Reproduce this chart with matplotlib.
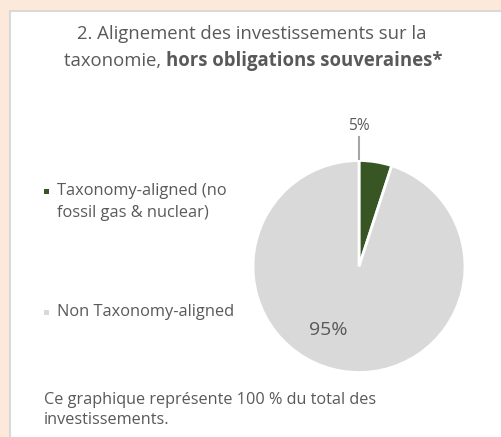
import matplotlib
matplotlib.use('Agg')
import matplotlib.pyplot as plt
from matplotlib.patches import Rectangle

# data
labels = ['Taxonomy-aligned (no\nfossil gas & nuclear)', 'Non Taxonomy-aligned']
values = [5, 95]
colors = ['#375623', '#D9D9D9']
title_1 = '2. Alignement des investissements sur la'
title_2a = 'taxonomie, '
title_2b = 'hors obligations souveraines*'
footer = 'Ce graphique représente 100 % du total des\ninvestissements.'

W, H = 502, 437
txt = '#595959'
plt.rcParams['font.family'] = ['Open Sans', 'DejaVu Sans']

fig = plt.figure(figsize=(W / 100, H / 100), dpi=100)
fig.patch.set_facecolor('#FCE9D9')
r = fig.canvas.get_renderer()

# white panel with light border
fig.add_artist(Rectangle((10.5 / W, -0.01), 1.0, 1 - 10.5 / H + 0.01,
                         transform=fig.transFigure, facecolor='white',
                         edgecolor='#D9D9D9', linewidth=1.5, zorder=-10))


def px(x, y):
    return x / W, 1 - y / H


def fit_size(s, width, **kw):
    # font size that makes one line of text about `width` pixels wide
    t = fig.text(0, 0, s, fontsize=10, **kw)
    w = t.get_window_extent(r).width
    t.remove()
    return 10 * width / w


# title
fs_t = fit_size(title_1, 350)
fig.text(*px(252, 34), title_1, ha='center', va='center', fontsize=fs_t, color=txt)
t1 = fig.text(0, 0, title_2a, fontsize=fs_t, color=txt, va='center')
t2 = fig.text(0, 0, title_2b, fontsize=fs_t, color=txt, va='center', fontweight='bold')
w1 = t1.get_window_extent(r).width
w2 = t2.get_window_extent(r).width
x0 = 253 - (w1 + w2) / 2
t1.set_position(px(x0, 61))
t2.set_position(px(x0 + w1, 61))

# pie
cx, cy, rad = 359, 266.5, 106
ax = fig.add_axes([(cx - rad) / W, (H - cy - rad) / H, 2 * rad / W, 2 * rad / H])
wedges, _ = ax.pie(values, colors=colors, startangle=90, counterclock=False,
                   wedgeprops=dict(edgecolor='white', linewidth=2))
ax.set_xlim(-1, 1)
ax.set_ylim(-1, 1)
ax.set_aspect('equal')

# data labels
fs_l = fit_size(labels[0].split('\n')[0], 169)
ax.plot([0, 0], [1.01, 1.22], color='#A6A6A6', lw=1.5, clip_on=False)
ax.text(0, 1.33, f'{values[0]}%', ha='center', va='center', fontsize=fs_l * 0.95, color=txt)
ax.text(-0.29, -0.60, f'{values[1]}%', ha='center', va='center', fontsize=fs_t * 1.05, color=txt)

# legend
leg_y = [191, 312]
for lab, col, y in zip(labels, colors, leg_y):
    fig.add_artist(Rectangle(px(44, y + 3), 5 / W, 5 / H, transform=fig.transFigure,
                             facecolor=col, edgecolor='none'))
    fig.text(*px(57, y), lab.split('\n')[0], ha='left', va='center', fontsize=fs_l, color=txt)
    for k, line in enumerate(lab.split('\n')[1:]):
        fig.text(*px(57, y + 22 * (k + 1)), line, ha='left', va='center', fontsize=fs_l, color=txt)

# footer
fs_f = fit_size(footer.split('\n')[0], 332)
for k, line in enumerate(footer.split('\n')):
    fig.text(*px(44, 400 + 20 * k), line, ha='left', va='center', fontsize=fs_f, color=txt)

fig.savefig('out.png', dpi=100, facecolor=fig.get_facecolor())
